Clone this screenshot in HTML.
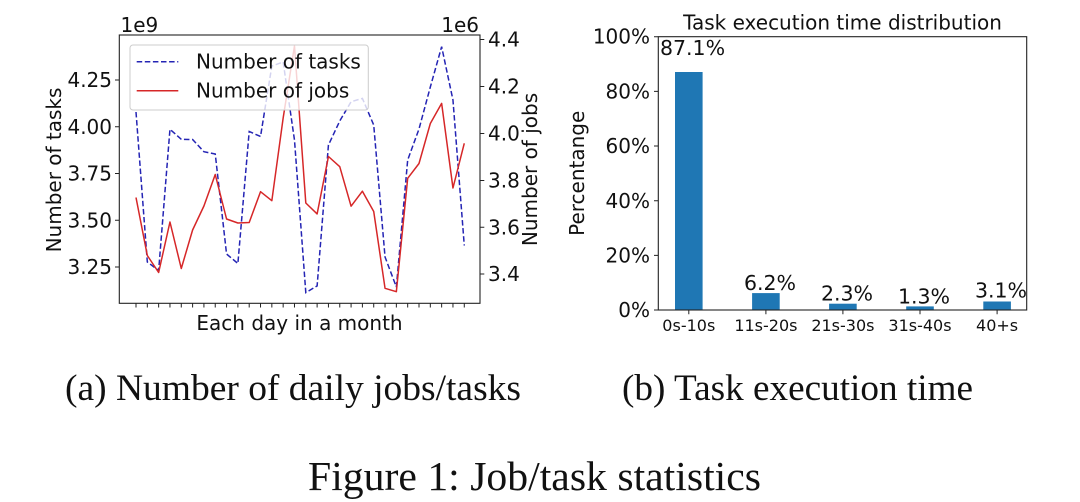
<!DOCTYPE html>
<html>
<head>
<meta charset="utf-8">
<style>
  html, body { margin: 0; padding: 0; background: #ffffff; }
  svg { display: block; }
  .m { font-family: "DejaVu Sans", "Liberation Sans", sans-serif; fill: #111; }
  .cap { font-family: "Liberation Serif", "DejaVu Serif", serif; fill: #111; }
</style>
</head>
<body>
<svg width="1080" height="502" viewBox="0 0 1080 502" xmlns="http://www.w3.org/2000/svg">
  <rect x="0" y="0" width="1080" height="502" fill="#ffffff"/>

  <!-- ============ LEFT CHART ============ -->
  <!-- series -->
  <polyline fill="none" stroke="#2424b4" stroke-width="1.5" stroke-dasharray="5.5 2.6"
    points="136,112 147.32,262 158.64,270.5 169.96,129.3 181.28,139.3 192.6,139.5 203.92,151.7 215.24,154 226.56,254 237.88,263.5 249.2,131.5 260.52,136.5 271.84,66 283.16,62 294.48,140 305.8,292.6 317.12,285.9 328.44,145 339.76,121 351.08,101.7 362.4,98.4 373.72,125 385.04,257 396.36,287 407.68,160 419,129 430.32,87 441.64,46.7 452.96,100 464.28,245.5"/>
  <polyline fill="none" stroke="#d62728" stroke-width="1.5" stroke-linejoin="round"
    points="136,197.5 147.32,255.5 158.64,272.5 169.96,222 181.28,268.5 192.6,230 203.92,206 215.24,174.5 226.56,219 237.88,223 249.2,222.5 260.52,191.7 271.84,200.7 283.16,118 294.48,46 305.8,203 317.12,213.9 328.44,156.5 339.76,166.7 351.08,206.2 362.4,191.2 373.72,211.5 385.04,288.3 396.36,291.7 407.68,178.3 419,163.5 430.32,123.5 441.64,103.4 452.96,188 464.28,143.3"/>

  <!-- legend -->
  <rect x="130" y="45" width="238.3" height="65" rx="3" ry="3" fill="#ffffff" fill-opacity="0.8" stroke="#cccccc" stroke-width="1"/>
  <line x1="136.7" y1="61.7" x2="178.3" y2="61.7" stroke="#2424b4" stroke-width="1.5" stroke-dasharray="5.5 2.6"/>
  <line x1="136.7" y1="90.7" x2="178.3" y2="90.7" stroke="#d62728" stroke-width="1.5"/>
  <text class="m" x="196" y="68.5" font-size="20">Number of tasks</text>
  <text class="m" x="196" y="97.5" font-size="20">Number of jobs</text>

  <!-- frame -->
  <rect x="119.3" y="35" width="360.7" height="268.3" fill="none" stroke="#222" stroke-width="1.1"/>

  <!-- x ticks -->
  <path stroke="#222" stroke-width="1" d="
    M136,303.3v4.2 M147.32,303.3v4.2 M158.64,303.3v4.2 M169.96,303.3v4.2 M181.28,303.3v4.2
    M192.6,303.3v4.2 M203.92,303.3v4.2 M215.24,303.3v4.2 M226.56,303.3v4.2 M237.88,303.3v4.2
    M249.2,303.3v4.2 M260.52,303.3v4.2 M271.84,303.3v4.2 M283.16,303.3v4.2 M294.48,303.3v4.2
    M305.8,303.3v4.2 M317.12,303.3v4.2 M328.44,303.3v4.2 M339.76,303.3v4.2 M351.08,303.3v4.2
    M362.4,303.3v4.2 M373.72,303.3v4.2 M385.04,303.3v4.2 M396.36,303.3v4.2 M407.68,303.3v4.2
    M419,303.3v4.2 M430.32,303.3v4.2 M441.64,303.3v4.2 M452.96,303.3v4.2 M464.28,303.3v4.2"/>

  <!-- left y ticks -->
  <path stroke="#222" stroke-width="1" d="M115,80h4.3 M115,126.75h4.3 M115,173.5h4.3 M115,220.25h4.3 M115,267h4.3"/>
  <g class="m" font-size="20" text-anchor="end">
    <text x="112" y="87">4.25</text>
    <text x="112" y="133.75">4.00</text>
    <text x="112" y="180.5">3.75</text>
    <text x="112" y="227.25">3.50</text>
    <text x="112" y="274">3.25</text>
  </g>
  <!-- right y ticks -->
  <path stroke="#222" stroke-width="1" d="M480,39.5h4.3 M480,86.5h4.3 M480,133.5h4.3 M480,180.5h4.3 M480,227.3h4.3 M480,274h4.3"/>
  <g class="m" font-size="20">
    <text x="488" y="46.5">4.4</text>
    <text x="488" y="93.5">4.2</text>
    <text x="488" y="140.5">4.0</text>
    <text x="488" y="187.5">3.8</text>
    <text x="488" y="234.3">3.6</text>
    <text x="488" y="281">3.4</text>
  </g>

  <!-- offsets -->
  <text class="m" x="120.5" y="32" font-size="20">1e9</text>
  <text class="m" x="479" y="32" font-size="20" text-anchor="end">1e6</text>

  <!-- axis labels -->
  <text class="m" font-size="20" text-anchor="middle" transform="translate(61,170) rotate(-90)">Number of tasks</text>
  <text class="m" font-size="20" text-anchor="middle" transform="translate(537,169.5) rotate(-90)">Number of jobs</text>
  <text class="m" x="299.5" y="330" font-size="20" text-anchor="middle">Each day in a month</text>

  <!-- ============ RIGHT CHART ============ -->
  <text class="m" x="842.5" y="29.3" font-size="20" text-anchor="middle">Task execution time distribution</text>

  <!-- bars -->
  <g fill="#1f77b4">
    <rect x="675" y="72" width="27.6" height="238"/>
    <rect x="752.1" y="293.1" width="27.6" height="16.9"/>
    <rect x="829.1" y="303.7" width="27.6" height="6.3"/>
    <rect x="906.2" y="306.4" width="27.6" height="3.6"/>
    <rect x="983.3" y="301.5" width="27.6" height="8.5"/>
  </g>

  <!-- frame -->
  <rect x="658.3" y="36.7" width="368.4" height="273.3" fill="none" stroke="#222" stroke-width="1.1"/>

  <!-- y ticks -->
  <path stroke="#222" stroke-width="1" d="M654,36.7h4.3 M654,91.4h4.3 M654,146h4.3 M654,200.8h4.3 M654,255.4h4.3 M654,310h4.3"/>
  <g class="m" font-size="20" text-anchor="end">
    <text x="650" y="43.7">100%</text>
    <text x="650" y="98.4">80%</text>
    <text x="650" y="153">60%</text>
    <text x="650" y="207.8">40%</text>
    <text x="650" y="262.4">20%</text>
    <text x="650" y="317">0%</text>
  </g>

  <!-- x ticks -->
  <path stroke="#222" stroke-width="1" d="M688.8,310v4.2 M765.9,310v4.2 M842.9,310v4.2 M920,310v4.2 M997.1,310v4.2"/>
  <g class="m" font-size="16" text-anchor="middle">
    <text x="688.8" y="331">0s-10s</text>
    <text x="765.9" y="331">11s-20s</text>
    <text x="842.9" y="331">21s-30s</text>
    <text x="920" y="331">31s-40s</text>
    <text x="997.1" y="331">40+s</text>
  </g>

  <!-- bar value labels -->
  <g class="m" font-size="20.5" text-anchor="middle">
    <text x="692.5" y="55">87.1%</text>
    <text x="770" y="290">6.2%</text>
    <text x="847" y="300.7">2.3%</text>
    <text x="924" y="303.3">1.3%</text>
    <text x="1001" y="297.3">3.1%</text>
  </g>

  <!-- y label -->
  <text class="m" font-size="20" text-anchor="middle" transform="translate(584,173.3) rotate(-90)">Percentange</text>

  <!-- ============ CAPTIONS ============ -->
  <text class="cap" x="65" y="400" font-size="37" textLength="456" lengthAdjust="spacingAndGlyphs">(a) Number of daily jobs/tasks</text>
  <text class="cap" x="622" y="400" font-size="37" textLength="351" lengthAdjust="spacingAndGlyphs">(b) Task execution time</text>
  <text class="cap" x="308" y="490" font-size="41.5" textLength="453" lengthAdjust="spacingAndGlyphs">Figure 1: Job/task statistics</text>
</svg>
</body>
</html>
